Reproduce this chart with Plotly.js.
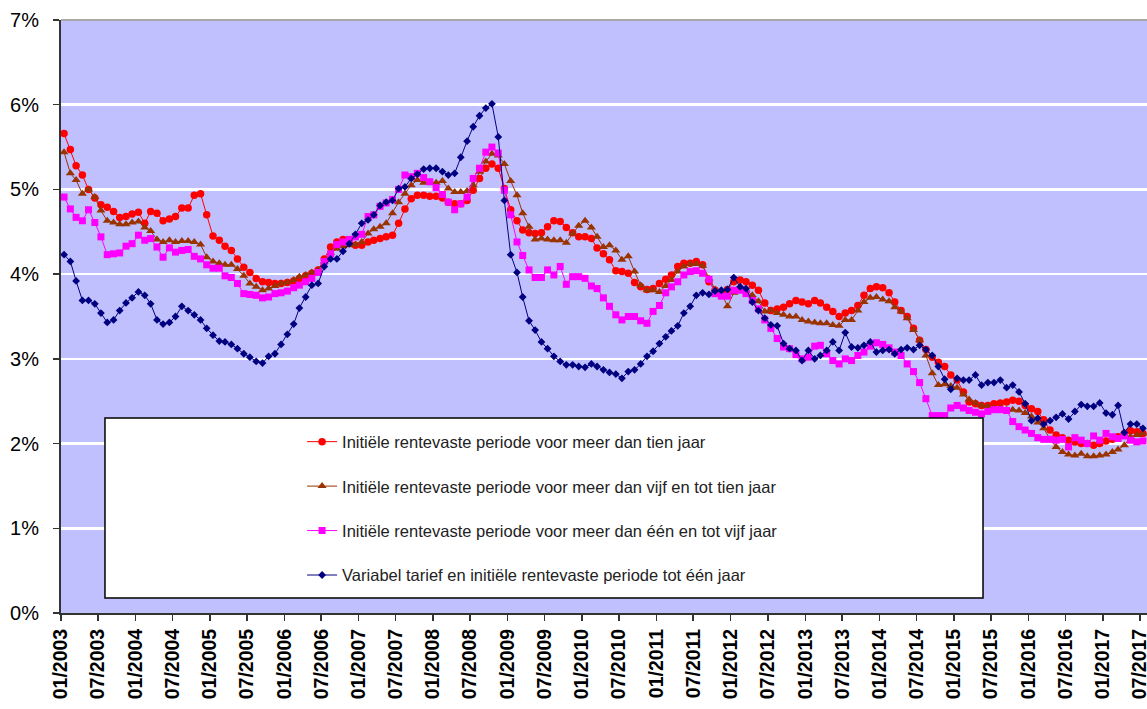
<!DOCTYPE html>
<html><head><meta charset="utf-8">
<script src="https://cdn.plot.ly/plotly-3.0.1.min.js"></script>
<style>html,body{margin:0;padding:0;background:#fff;}#chart{width:1147px;height:709px;}</style>
</head><body><div id="chart"></div>
<script>
// Monthly series, 01/2003 .. 07/2017 (values in %)
const firstYear = 2003;
const firstMonth = 1;

const tickLabels = ['01/2003','07/2003','01/2004','07/2004','01/2005','07/2005','01/2006','07/2006','01/2007','07/2007',
  '01/2008','07/2008','01/2009','07/2009','01/2010','07/2010','01/2011','07/2011','01/2012','07/2012',
  '01/2013','07/2013','01/2014','07/2014','01/2015','07/2015','01/2016','07/2016','01/2017','07/2017'];

const seriesNames = [
  'Initiële rentevaste periode voor meer dan tien jaar',
  'Initiële rentevaste periode voor meer dan vijf en tot tien jaar',
  'Initiële rentevaste periode voor meer dan één en tot vijf jaar',
  'Variabel tarief en initiële rentevaste periode tot één jaar'
];

const meerDanTien = [
5.66,5.47,5.28,5.17,5.00,4.90,4.82,4.79,4.74,4.67,4.68,4.71,4.73,4.60,4.74,4.72,4.63,4.65,4.68,4.78,
4.78,4.93,4.95,4.70,4.45,4.40,4.33,4.28,4.18,4.08,4.02,3.95,3.91,3.90,3.89,3.89,3.90,3.92,3.95,3.98,
4.01,4.05,4.18,4.32,4.38,4.41,4.40,4.34,4.34,4.38,4.40,4.42,4.44,4.46,4.60,4.77,4.89,4.93,4.93,4.92,
4.92,4.90,4.85,4.83,4.83,4.87,4.99,5.13,5.25,5.30,5.25,5.01,4.76,4.63,4.52,4.49,4.48,4.49,4.56,4.63,
4.62,4.55,4.49,4.44,4.44,4.42,4.31,4.24,4.17,4.04,4.03,4.01,3.90,3.85,3.82,3.83,3.89,3.94,3.99,4.09,
4.13,4.13,4.15,4.11,3.91,3.81,3.78,3.82,3.91,3.93,3.91,3.87,3.81,3.66,3.57,3.59,3.61,3.65,3.69,3.67,
3.65,3.69,3.66,3.61,3.56,3.50,3.54,3.57,3.63,3.75,3.83,3.85,3.84,3.78,3.67,3.57,3.50,3.36,3.22,3.11,
3.02,2.96,2.91,2.81,2.75,2.61,2.49,2.47,2.45,2.45,2.47,2.48,2.49,2.51,2.50,2.45,2.41,2.38,2.28,2.16,
2.10,2.07,2.04,2.02,2.00,2.00,1.98,2.00,2.03,2.05,2.08,2.12,2.15,2.14,2.12];

const vijfTotTien = [
5.44,5.19,5.11,4.95,5.00,4.91,4.75,4.63,4.61,4.59,4.59,4.61,4.62,4.55,4.51,4.41,4.38,4.40,4.38,4.39,
4.39,4.38,4.35,4.20,4.15,4.13,4.11,4.11,4.06,3.98,3.89,3.85,3.81,3.83,3.86,3.89,3.90,3.93,3.97,3.99,
4.02,4.05,4.15,4.25,4.30,4.33,4.34,4.35,4.38,4.48,4.53,4.56,4.60,4.72,4.85,4.95,5.05,5.11,5.08,5.09,
5.08,5.10,5.01,4.97,4.97,4.98,5.05,5.21,5.33,5.42,5.40,5.30,5.10,4.93,4.72,4.56,4.41,4.42,4.41,4.40,
4.40,4.37,4.48,4.57,4.63,4.55,4.44,4.32,4.34,4.28,4.17,4.21,4.03,3.87,3.81,3.81,3.79,3.86,3.93,4.03,
4.09,4.12,4.12,4.10,3.95,3.82,3.78,3.62,3.78,3.85,3.82,3.75,3.68,3.56,3.57,3.54,3.52,3.50,3.50,3.46,
3.44,3.43,3.42,3.42,3.40,3.39,3.46,3.46,3.57,3.67,3.72,3.73,3.70,3.68,3.61,3.56,3.48,3.34,3.22,3.04,
2.83,2.69,2.70,2.68,2.66,2.58,2.52,2.48,2.45,2.44,2.42,2.42,2.40,2.40,2.39,2.36,2.32,2.25,2.18,2.05,
1.96,1.90,1.87,1.86,1.88,1.85,1.85,1.86,1.87,1.90,1.93,1.98,2.08,2.10,2.12];

const eenTotVijf = [
4.91,4.77,4.67,4.63,4.76,4.61,4.44,4.23,4.24,4.25,4.33,4.36,4.46,4.40,4.42,4.32,4.20,4.31,4.26,4.28,
4.29,4.21,4.18,4.11,4.07,4.07,3.98,3.96,3.89,3.77,3.76,3.75,3.72,3.73,3.77,3.78,3.80,3.84,3.87,3.91,
3.95,4.02,4.15,4.24,4.35,4.38,4.41,4.44,4.47,4.68,4.70,4.80,4.84,4.88,5.00,5.17,5.15,5.19,5.14,5.09,
5.02,4.94,4.85,4.76,4.83,4.91,5.13,5.25,5.44,5.50,5.43,4.99,4.70,4.38,4.22,4.05,3.96,3.96,4.05,3.99,
4.09,3.88,3.97,3.97,3.95,3.86,3.83,3.72,3.62,3.52,3.46,3.50,3.50,3.45,3.42,3.56,3.63,3.78,3.85,3.91,
3.99,4.03,4.04,4.01,3.94,3.77,3.74,3.74,3.81,3.81,3.77,3.69,3.59,3.46,3.36,3.24,3.14,3.12,3.05,3.00,
3.02,3.15,3.16,3.06,2.98,2.94,3.00,2.98,3.04,3.08,3.15,3.19,3.17,3.13,3.08,3.04,2.94,2.85,2.72,2.53,
2.33,2.33,2.33,2.42,2.45,2.42,2.39,2.37,2.35,2.38,2.40,2.40,2.39,2.26,2.20,2.16,2.12,2.07,2.05,2.05,
2.04,2.05,1.96,2.07,2.04,2.00,2.09,2.04,2.12,2.08,2.06,2.09,2.04,2.02,2.03];

const variabel = [
4.23,4.15,3.92,3.69,3.69,3.65,3.54,3.43,3.46,3.57,3.66,3.72,3.79,3.75,3.65,3.46,3.41,3.43,3.50,3.62,
3.57,3.52,3.46,3.36,3.28,3.21,3.20,3.17,3.12,3.06,3.02,2.97,2.95,3.03,3.06,3.17,3.29,3.41,3.60,3.73,
3.87,3.89,4.09,4.18,4.18,4.27,4.36,4.47,4.60,4.64,4.70,4.81,4.85,4.87,5.01,5.03,5.13,5.18,5.24,5.25,
5.25,5.21,5.17,5.19,5.38,5.57,5.74,5.87,5.96,6.01,5.62,4.87,4.23,4.02,3.73,3.45,3.34,3.20,3.12,3.03,
2.97,2.93,2.93,2.91,2.90,2.94,2.91,2.87,2.84,2.82,2.77,2.85,2.87,2.94,3.03,3.09,3.18,3.26,3.33,3.39,
3.54,3.62,3.75,3.78,3.76,3.80,3.81,3.82,3.96,3.85,3.83,3.67,3.57,3.48,3.40,3.39,3.18,3.12,3.10,2.98,
3.10,3.00,3.04,3.10,3.20,3.10,3.31,3.14,3.13,3.16,3.20,3.08,3.10,3.11,3.06,3.11,3.13,3.11,3.16,3.11,
3.04,2.91,2.76,2.64,2.77,2.75,2.75,2.81,2.69,2.72,2.72,2.75,2.66,2.69,2.61,2.47,2.27,2.30,2.23,2.27,
2.31,2.35,2.29,2.38,2.46,2.44,2.44,2.48,2.36,2.34,2.45,2.13,2.23,2.23,2.18];

const yTickValues = [0,1,2,3,4,5,6,7];

// month positions: points sit mid-month (Excel "between tick marks")
function monthDate(i, day) {
  const m = firstMonth - 1 + i;
  const y = firstYear + Math.floor(m / 12);
  const mm = (m % 12) + 1;
  return y + '-' + String(mm).padStart(2, '0') + '-' + day;
}
const xDates = meerDanTien.map((_, i) => monthDate(i, '16'));
const tickVals = tickLabels.map(t => { const p = t.split('/'); return p[1] + '-' + p[0] + '-01'; });

const styles = [
  {color:'#FF0000', symbol:'circle', size:7.5},
  {color:'#993300', symbol:'triangle-up', size:8},
  {color:'#FF00FF', symbol:'square', size:7},
  {color:'#000080', symbol:'diamond', size:6}
];
const allSeries = [meerDanTien, vijfTotTien, eenTotVijf, variabel];

const traces = allSeries.map((vals, k) => ({
  type:'scatter', mode:'lines+markers',
  x: xDates, y: vals, name: seriesNames[k],
  legendgroup: 'g' + k,
  line:{color: styles[k].color, width:1},
  marker:{color: styles[k].color, symbol: styles[k].symbol, size: styles[k].size, line:{width:0}},
  hoverinfo:'skip'
}));

const layout = {
  width:1147, height:709,
  margin:{l:61, r:0, t:20, b:96},
  paper_bgcolor:'#ffffff', plot_bgcolor:'#C0C0FF',
  font:{family:'Arial, "Liberation Sans", sans-serif', color:'#000'},
  showlegend:true,
  xaxis:{
    type:'date', range:['2003-01-01','2017-08-05'],
    tickmode:'array', tickvals: tickVals, ticktext: tickLabels,
    tickangle:-90, ticks:'outside', ticklen:6, tickwidth:1.5, tickcolor:'#333',
    showline:true, linecolor:'#333', linewidth:2,
    showgrid:false, zeroline:false, ticklabeloverflow:'allow',
    tickfont:{size:19.5, weight:'bold', color:'#000'}
  },
  yaxis:{
    range:[0,7], tickmode:'array', tickvals: yTickValues, ticktext: yTickValues.map(v => v + '%'),
    ticks:'outside', ticklen:6, tickwidth:1.5, tickcolor:'#333',
    showline:true, linecolor:'#333', linewidth:2,
    showgrid:true, gridcolor:'#ffffff', gridwidth:2.5, zeroline:false,
    ticklabelstandoff:10,
    tickfont:{size:20, color:'#000'}
  },
  shapes:[
    {type:'line', xref:'paper', yref:'paper', x0:0, x1:1, y0:1, y1:1, line:{color:'#a8a8a8', width:2}, layer:'above'},
    {type:'rect', xref:'paper', yref:'paper', x0:0.0405, x1:0.849, y0:0.0253, y1:0.329,
     fillcolor:'#ffffff', line:{color:'#000', width:1.5}, layer:'above'}
  ],
  legend:{
    x:0.222, xanchor:'left', y:0.318, yanchor:'top',
    bgcolor:'rgba(0,0,0,0)', borderwidth:0,
    font:{size:16.5, color:'#222'},
    traceorder:'grouped', tracegroupgap:20, itemwidth:30
  }
};

Plotly.newPlot('chart', traces, layout, {displayModeBar:false, staticPlot:true});
</script>
</body></html>
